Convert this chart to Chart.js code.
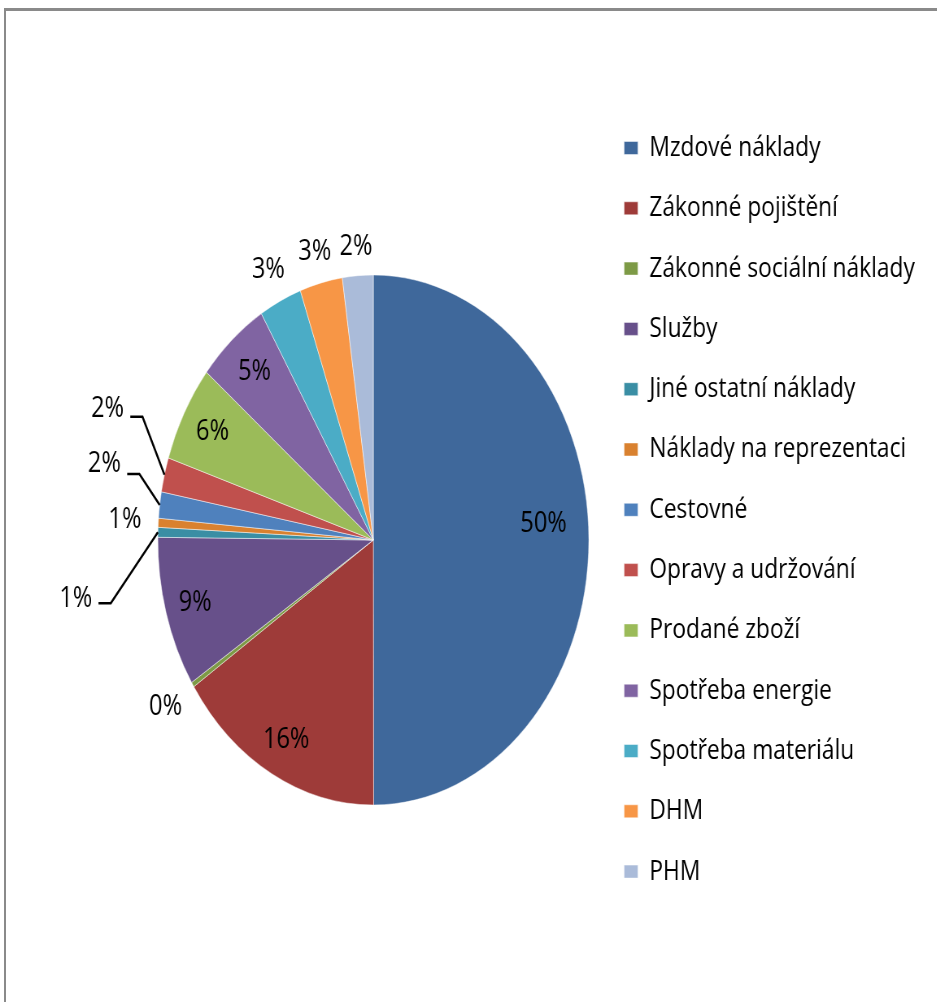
<!DOCTYPE html>
<html>
<head>
<meta charset="utf-8">
<script src="https://cdn.jsdelivr.net/npm/chart.js@4.4.1/dist/chart.umd.min.js"></script>
<style>
  html, body { margin: 0; padding: 0; background: #fff; overflow: hidden; }
  /* rámeček grafu (jen horní a levá hrana jsou ve výřezu) */
  #ramecek { position: absolute; left: 4px; top: 8px; width: 960px; height: 1010px;
             border-top: 3px solid #8a8a8a; border-left: 2px solid #8a8a8a; }
  /* originál je vodorovně stlačený -> kreslíme širší plátno a zúžíme ho */
  #obal { position: absolute; left: 0; top: 0; width: 1152px; height: 1002px;
          transform: scaleX(0.8132); transform-origin: 0 0; }
</style>
</head>
<body>
<div id="ramecek"></div>
<div id="obal"><canvas id="graf" width="1152" height="1002"></canvas></div>
<script>
// ============================================
// DATA
// ============================================
const KATEGORIE = [
  'Mzdové náklady', 'Zákonné pojištění', 'Zákonné sociální náklady', 'Služby',
  'Jiné ostatní náklady', 'Náklady na reprezentaci', 'Cestovné', 'Opravy a udržování',
  'Prodané zboží', 'Spotřeba energie', 'Spotřeba materiálu', 'DHM', 'PHM',
];
const PODILY = [50.0, 15.7, 0.3, 9.2, 0.6, 0.55, 1.6, 2.1, 5.9, 5.4, 3.2, 3.2, 2.3];
const BARVY = [
  '#3F689B', '#9E3B39', '#7D9A46', '#67508A', '#3A8EA4', '#D9812F',
  '#4F81BD', '#C0504D', '#9BBB59', '#8064A2', '#4BACC6', '#F79646', '#AABBD9',
];

// Umístění popisků: r = násobek poloměru na středovém úhlu výseče,
// voditko = posun textu od okraje výseče (popisky vlevo s čárou).
const UMISTENI = [
  { r: 0.79, posun: [0, -16] },
  { r: 0.856 },
  { r: 1.15 },
  { r: 0.86 },
  { voditko: [-101, 66], cara: 5 },
  { r: 1.155 },
  { voditko: [-68, -41], cara: 10 },
  { voditko: [-70, -66], cara: 8 },
  { r: 0.85 },
  { r: 0.84 },
  { r: 1.13 },
  { r: 1.12 },
  { r: 1.11 },
];

const PISMO = '"Open Sans", "DejaVu Sans", sans-serif';

// Procentní popisky výsečí (vlastní plugin, Chart.js nemá datalabels v jádru)
const popiskyPlugin = {
  id: 'popisky',
  afterDatasetsDraw(chart) {
    const ctx = chart.ctx;
    const meta = chart.getDatasetMeta(0);
    const celkem = PODILY.reduce((a, b) => a + b, 0);
    ctx.save();
    ctx.font = '29px ' + PISMO;
    ctx.fillStyle = '#000';
    ctx.textAlign = 'center';
    ctx.textBaseline = 'middle';
    ctx.strokeStyle = '#000';
    ctx.lineWidth = 2.5;
    meta.data.forEach((arc, i) => {
      const { x, y, startAngle, endAngle, outerRadius } =
        arc.getProps(['x', 'y', 'startAngle', 'endAngle', 'outerRadius'], true);
      const uhel = (startAngle + endAngle) / 2;
      const text = Math.round(PODILY[i] / celkem * 100) + '%';
      const u = UMISTENI[i];
      if (u.voditko) {
        const ox = x + Math.cos(uhel) * outerRadius;
        const oy = y + Math.sin(uhel) * outerRadius;
        const tx = ox + u.voditko[0];
        const ty = oy + u.voditko[1];
        ctx.beginPath();
        ctx.moveTo(ox, oy);
        ctx.lineTo(tx + 43, ty + u.cara);
        ctx.lineTo(tx + 28, ty + u.cara);
        ctx.stroke();
        ctx.fillText(text, tx, ty);
      } else {
        const posun = u.posun || [0, 0];
        ctx.fillText(text,
          x + Math.cos(uhel) * outerRadius * u.r + posun[0],
          y + Math.sin(uhel) * outerRadius * u.r + posun[1]);
      }
    });
    ctx.restore();
  },
};

new Chart(document.getElementById('graf'), {
  type: 'pie',
  data: {
    labels: KATEGORIE,
    datasets: [{
      data: PODILY,
      backgroundColor: BARVY,
      borderColor: 'rgba(255,255,255,0.6)',
      borderWidth: 0.8,
      radius: 265,
    }],
  },
  options: {
    responsive: false,
    animation: false,
    layout: { padding: { top: 101.7, bottom: 23.7, left: 182.9, right: 17 } },
    plugins: {
      tooltip: { enabled: false },
      legend: {
        position: 'right',
        align: 'start',
        labels: {
          color: '#000',
          font: { family: PISMO, size: 28 },
          boxWidth: 17,
          boxHeight: 13,
          padding: 32.3,
        },
      },
    },
  },
  plugins: [popiskyPlugin],
});
</script>
</body>
</html>
